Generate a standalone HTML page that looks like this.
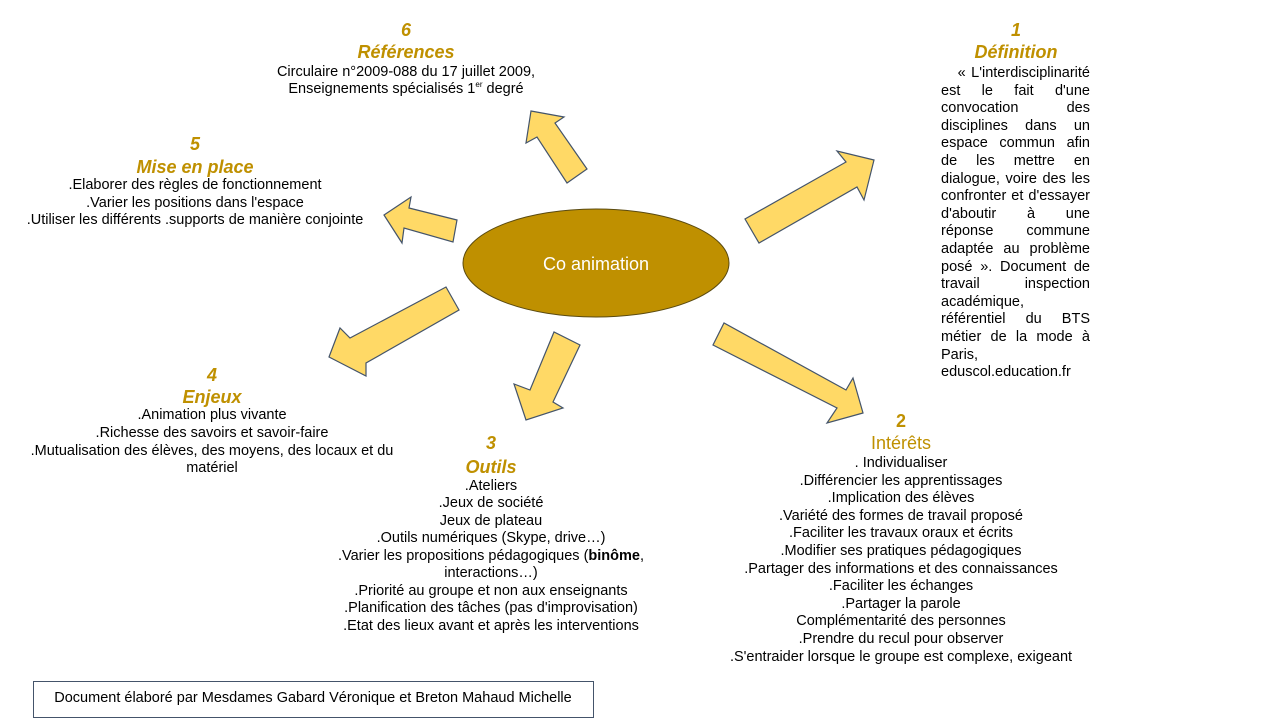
<!DOCTYPE html>
<html><head><meta charset="utf-8"><style>
body{margin:0;width:1280px;height:720px;background:#fff;position:relative;overflow:hidden;font-family:"Liberation Sans",Arial,sans-serif;color:#000}
#w{position:absolute;left:0;top:2px;width:1280px;height:720px}
.c{position:absolute;white-space:nowrap;transform:translateX(-50%);font-size:14.5px;line-height:17.6px;text-align:center}
.t{position:absolute;white-space:nowrap;transform:translateX(-50%);color:#BF9000;font-weight:bold;font-style:italic;font-size:18px;line-height:22px;text-align:center}
.j{position:absolute;left:941px;width:149px;font-size:14.5px;line-height:17.6px;text-align:justify;text-align-last:justify;white-space:nowrap}
.l{text-align-last:left}
sup{font-size:8px;line-height:0}
</style></head><body>
<svg width="1280" height="720" style="position:absolute;left:0;top:0">
<g fill="#FFD966" stroke="#44546A" stroke-width="1.2" stroke-linejoin="miter">
<polygon points="531,111 564,117 555,123 587,169 567,183 537,137 526,143"/>
<polygon points="874,160 837,151 846,162 745,219 759,243 857,187 864,200"/>
<polygon points="384,215 411,197 409,208 457,220 453,242 404,228 402,243"/>
<polygon points="329,357 340,328 350,338 446,287 459,310 366,363 366,376"/>
<polygon points="526,420 514,384 530,390 554,332 580,345 553,402 563,408"/>
<polygon points="863,413 827,423 837,408 713,345 724,323 846,390 853,378"/>
</g>
<ellipse cx="596" cy="263" rx="133" ry="54" fill="#BF9000" stroke="#5a4a10" stroke-width="1"/>
<text x="596" y="270" font-family="Liberation Sans, sans-serif" font-size="18" fill="#fff" text-anchor="middle">Co animation</text>
<rect x="33.5" y="681.5" width="560" height="36" fill="none" stroke="#44546A" stroke-width="1"/>
</svg>
<div id="w">
<div class="t" style="left:406px;top:17px">6</div>
<div class="t" style="left:406px;top:39px">Références</div>
<div class="c" style="left:406px;top:62px">Circulaire n°2009-088 du 17 juillet 2009,</div>
<div class="c" style="left:406px;top:79px">Enseignements spécialisés 1<sup>er</sup> degré</div>

<div class="t" style="left:195px;top:131px">5</div>
<div class="t" style="left:195px;top:154px">Mise en place</div>
<div class="c" style="left:195px;top:175px">.Elaborer des règles de fonctionnement</div>
<div class="c" style="left:195px;top:193px">.Varier les positions dans l'espace</div>
<div class="c" style="left:195px;top:210px">.Utiliser les différents .supports de manière conjointe</div>

<div class="t" style="left:212px;top:362px">4</div>
<div class="t" style="left:212px;top:384px">Enjeux</div>
<div class="c" style="left:212px;top:405px">.Animation plus vivante</div>
<div class="c" style="left:212px;top:423px">.Richesse des savoirs et savoir-faire</div>
<div class="c" style="left:212px;top:441px">.Mutualisation des élèves, des moyens, des locaux et du</div>
<div class="c" style="left:212px;top:458px">matériel</div>

<div class="t" style="left:491px;top:430px">3</div>
<div class="t" style="left:491px;top:454px">Outils</div>
<div class="c" style="left:491px;top:476px">.Ateliers</div>
<div class="c" style="left:491px;top:493px">.Jeux de société</div>
<div class="c" style="left:491px;top:511px">Jeux de plateau</div>
<div class="c" style="left:491px;top:528px">.Outils numériques (Skype, drive…)</div>
<div class="c" style="left:491px;top:546px">.Varier les propositions pédagogiques (<b>binôme</b>,</div>
<div class="c" style="left:491px;top:563px">interactions…)</div>
<div class="c" style="left:491px;top:581px">.Priorité au groupe et non aux enseignants</div>
<div class="c" style="left:491px;top:598px">.Planification des tâches (pas d'improvisation)</div>
<div class="c" style="left:491px;top:616px">.Etat des lieux avant et après les interventions</div>

<div class="t" style="left:901px;top:408px;font-style:normal">2</div>
<div class="t" style="left:901px;top:430px;font-weight:normal;font-style:normal">Intérêts</div>
<div class="c" style="left:901px;top:453px">. Individualiser</div>
<div class="c" style="left:901px;top:471px">.Différencier les apprentissages</div>
<div class="c" style="left:901px;top:488px">.Implication des élèves</div>
<div class="c" style="left:901px;top:506px">.Variété des formes de travail proposé</div>
<div class="c" style="left:901px;top:523px">.Faciliter les travaux oraux et écrits</div>
<div class="c" style="left:901px;top:541px">.Modifier  ses pratiques pédagogiques</div>
<div class="c" style="left:901px;top:559px">.Partager des informations et des connaissances</div>
<div class="c" style="left:901px;top:576px">.Faciliter les échanges</div>
<div class="c" style="left:901px;top:594px">.Partager la parole</div>
<div class="c" style="left:901px;top:611px">Complémentarité des personnes</div>
<div class="c" style="left:901px;top:629px">.Prendre du recul pour observer</div>
<div class="c" style="left:901px;top:647px">.S'entraider lorsque le groupe est complexe, exigeant</div>

<div class="t" style="left:1016px;top:17px">1</div>
<div class="t" style="left:1016px;top:39px">Définition</div>
<div class="j" style="top:63px">&nbsp;&nbsp; « L'interdisciplinarité</div>
<div class="j" style="top:80.6px">est le fait d'une</div>
<div class="j" style="top:98.2px">convocation des</div>
<div class="j" style="top:115.8px">disciplines dans un</div>
<div class="j" style="top:133.4px">espace commun afin</div>
<div class="j" style="top:151px">de les mettre en</div>
<div class="j" style="top:168.6px">dialogue, voire des les</div>
<div class="j" style="top:186.2px">confronter et d'essayer</div>
<div class="j" style="top:203.8px">d'aboutir à une</div>
<div class="j" style="top:221.4px">réponse commune</div>
<div class="j" style="top:239px">adaptée au problème</div>
<div class="j" style="top:256.6px">posé ». Document de</div>
<div class="j" style="top:274.2px">travail inspection</div>
<div class="j l" style="top:291.8px">académique,</div>
<div class="j" style="top:309.4px">référentiel du BTS</div>
<div class="j" style="top:327px">métier de la mode à</div>
<div class="j l" style="top:344.6px">Paris,</div>
<div class="j l" style="top:362.2px">eduscol.education.fr</div>

<div class="c" style="left:313px;top:688px">Document élaboré par Mesdames Gabard Véronique et Breton Mahaud Michelle</div>
</div>
</body></html>
